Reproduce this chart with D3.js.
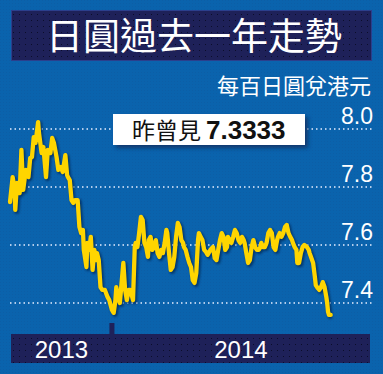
<!DOCTYPE html>
<html>
<head>
<meta charset="utf-8">
<script src="https://cdn.jsdelivr.net/npm/d3@7"></script>
<style>
    body { margin: 0; background: #0a63ad; }
    svg { display: block; }
</style>
</head>
<body>
<div class="article"></div>
<script>
// chart data (days since start date, rate per 100 yen in HKD)
var startDate = "2013-09-07";
var endDate = "2014-09-07";

var dayOffsets = [0, 3, 5, 6, 8, 11, 13, 15, 18, 21, 23, 25, 27, 29, 32, 33, 36, 38, 41, 43,
    46, 48, 50, 53, 55, 58, 60, 63, 65, 66, 68, 70, 72, 74, 77, 79, 81, 83, 84, 87,
    88, 90, 92, 94, 96, 98, 99, 101, 103, 105, 108, 111, 113, 116, 118, 120, 121, 123, 125, 127,
    129, 131, 133, 135, 137, 138, 140, 142, 143, 145, 147, 149, 151, 153, 155, 157, 158, 160, 162, 164,
    166, 168, 170, 172, 174, 176, 178, 179, 181, 183, 185, 187, 189, 191, 193, 195, 197, 198, 200, 202,
    204, 206, 208, 210, 212, 214, 215, 217, 219, 221, 223, 225, 228, 231, 233, 235, 237, 239, 241, 243,
    245, 247, 248, 250, 252, 254, 256, 258, 260, 262, 264, 266, 267, 269, 271, 273, 275, 277, 279, 281,
    283, 285, 286, 288, 290, 292, 294, 296, 298, 300, 302, 304, 305, 307, 309, 311, 313, 315, 317, 319,
    321, 322, 324, 326, 327, 329, 331, 333, 335, 338, 340, 341, 343, 345, 347, 348, 350, 352, 354, 356,
    358, 360, 361, 362, 363, 365];

var rates = [7.748, 7.834, 7.800, 7.721, 7.814, 7.779, 7.928, 7.790, 7.859, 7.834, 7.900, 7.903, 7.972, 7.952, 8.024, 7.986, 7.917, 7.938, 7.834, 7.928,
    7.917, 7.969, 7.952, 7.903, 7.859, 7.869, 7.852, 7.910, 7.841, 7.834, 7.824, 7.755, 7.745, 7.755, 7.755, 7.662, 7.641, 7.652, 7.583, 7.524,
    7.607, 7.583, 7.628, 7.514, 7.583, 7.548, 7.572, 7.548, 7.455, 7.445, 7.445, 7.421, 7.410, 7.376, 7.366, 7.410, 7.455, 7.421, 7.400, 7.469,
    7.538, 7.445, 7.410, 7.445, 7.445, 7.434, 7.410, 7.593, 7.607, 7.593, 7.641, 7.697, 7.686, 7.607, 7.593, 7.559, 7.617, 7.628, 7.583, 7.593,
    7.617, 7.572, 7.559, 7.583, 7.572, 7.607, 7.652, 7.641, 7.572, 7.514, 7.524, 7.559, 7.628, 7.676, 7.662, 7.617, 7.607, 7.593, 7.583, 7.559,
    7.538, 7.524, 7.479, 7.469, 7.503, 7.617, 7.641, 7.628, 7.617, 7.583, 7.576, 7.566, 7.583, 7.593, 7.555, 7.548, 7.583, 7.617, 7.641, 7.628,
    7.583, 7.593, 7.628, 7.617, 7.607, 7.628, 7.652, 7.641, 7.617, 7.607, 7.628, 7.617, 7.607, 7.572, 7.538, 7.548, 7.593, 7.617, 7.593, 7.583,
    7.583, 7.593, 7.607, 7.593, 7.593, 7.607, 7.641, 7.652, 7.641, 7.593, 7.583, 7.617, 7.628, 7.641, 7.628, 7.641, 7.662, 7.669, 7.641, 7.628,
    7.617, 7.607, 7.593, 7.583, 7.538, 7.538, 7.572, 7.593, 7.600, 7.593, 7.583, 7.572, 7.555, 7.538, 7.490, 7.462, 7.452, 7.445, 7.455, 7.472,
    7.455, 7.421, 7.400, 7.369, 7.359, 7.359];

var yTicks = [7.4, 7.6, 7.8, 8.0];
var yearLabels = ["2013", "2014"];

var titleText = "日圓過去一年走勢";
var unitText = "每百日圓兌港元";
var noteLabel = "昨曾見";
var noteValue = "7.3333";

buildChart();

function buildChart() {
    var svgWidth = 383;
    var svgHeight = 374;

    var parseDate = d3.timeParse("%Y-%m-%d");
    var start = parseDate(startDate);

    var data = dayOffsets.map(function(d, i) {
        return { date: d3.timeDay.offset(start, d), rate: rates[i] };
    });

    var svg = d3.select(".article").append("svg")
        .attr("width", svgWidth)
        .attr("height", svgHeight);

    var defs = svg.append("defs");

    // dotted texture for the dark boxes
    var pat = defs.append("pattern")
        .attr("id", "dots")
        .attr("width", 6)
        .attr("height", 6)
        .attr("patternUnits", "userSpaceOnUse");
    pat.append("rect").attr("width", 6).attr("height", 6).attr("fill", "#1e2159");
    pat.append("rect").attr("x", 1).attr("y", 2).attr("width", 1).attr("height", 1).attr("fill", "#0b0d2a");

    // faint texture for the blue background
    var bgPat = defs.append("pattern")
        .attr("id", "bgdots")
        .attr("width", 3)
        .attr("height", 3)
        .attr("patternUnits", "userSpaceOnUse");
    bgPat.append("rect").attr("width", 3).attr("height", 3).attr("fill", "#0a63ad");
    bgPat.append("rect").attr("width", 1).attr("height", 1).attr("fill", "#0c5ea6");

    var shadow = defs.append("filter")
        .attr("id", "boxShadow")
        .attr("x", "-20%").attr("y", "-40%")
        .attr("width", "140%").attr("height", "180%");
    shadow.append("feDropShadow")
        .attr("dx", 3).attr("dy", 3)
        .attr("stdDeviation", 2)
        .attr("flood-color", "#0a2a5c")
        .attr("flood-opacity", 0.8);

    var blur = defs.append("filter").attr("id", "lineBlur");
    blur.append("feGaussianBlur").attr("stdDeviation", 0.8);

    svg.append("rect")
        .attr("width", svgWidth)
        .attr("height", svgHeight)
        .attr("fill", "url(#bgdots)");

    // title box
    svg.append("rect")
        .attr("x", 11.5)
        .attr("y", 10.5)
        .attr("width", 360)
        .attr("height", 50)
        .attr("fill", "url(#dots)")
        .attr("stroke", "#2b3f8c")
        .attr("stroke-width", 1);

    svg.append("text")
        .attr("x", 194)
        .attr("y", 50)
        .attr("text-anchor", "middle")
        .attr("fill", "#ffffff")
        .attr("font-family", "'Noto Sans CJK TC', 'Noto Sans CJK SC', sans-serif")
        .attr("font-size", 37)
        .text(titleText);

    svg.append("text")
        .attr("x", 371)
        .attr("y", 94)
        .attr("text-anchor", "end")
        .attr("fill", "#ffffff")
        .attr("font-family", "'Noto Sans CJK TC', 'Noto Sans CJK SC', sans-serif")
        .attr("font-size", 22)
        .text(unitText);

    // scales
    var xScale = d3.scaleTime()
        .domain([start, parseDate(endDate)])
        .range([10, 330.7]);

    var yScale = d3.scaleLinear()
        .domain([7.4, 8.0])
        .range([303, 129]);

    // dotted gridlines
    svg.append("g")
        .selectAll("line")
        .data(yTicks)
        .enter()
        .append("line")
        .attr("x1", 10)
        .attr("x2", 374)
        .attr("y1", d => yScale(d))
        .attr("y2", d => yScale(d))
        .attr("stroke", "#e8f0ff")
        .attr("stroke-width", 1.5)
        .attr("stroke-dasharray", "1.5,3");

    // tick labels sit just above their line
    svg.append("g")
        .selectAll("text")
        .data(yTicks)
        .enter()
        .append("text")
        .attr("x", 373)
        .attr("y", d => yScale(d) - 5)
        .attr("text-anchor", "end")
        .attr("fill", "#ffffff")
        .attr("font-family", "'Liberation Sans', Arial, sans-serif")
        .attr("font-size", 23)
        .text(d => d3.format(".1f")(d));

    // the rate line with a dark shadow
    var line = d3.line()
        .x(d => xScale(d.date))
        .y(d => yScale(d.rate));

    svg.append("path")
        .datum(data)
        .attr("d", line)
        .attr("transform", "translate(1.5, 1.5)")
        .attr("fill", "none")
        .attr("stroke", "#082a55")
        .attr("stroke-opacity", 0.75)
        .attr("stroke-width", 5)
        .attr("stroke-linejoin", "round")
        .attr("filter", "url(#lineBlur)");

    svg.append("path")
        .datum(data)
        .attr("d", line)
        .attr("fill", "none")
        .attr("stroke", "#ffd500")
        .attr("stroke-width", 4.3)
        .attr("stroke-linejoin", "round")
        .attr("stroke-linecap", "round");

    // note box
    var note = svg.append("g");
    note.append("rect")
        .attr("x", 113)
        .attr("y", 114)
        .attr("width", 192)
        .attr("height", 31)
        .attr("fill", "#ffffff")
        .attr("filter", "url(#boxShadow)");

    var noteText = note.append("text")
        .attr("x", 132)
        .attr("y", 139)
        .attr("fill", "#111111");
    noteText.append("tspan")
        .attr("font-family", "'Noto Sans CJK TC', sans-serif")
        .attr("font-size", 23)
        .text(noteLabel);
    noteText.append("tspan")
        .attr("dx", 5)
        .attr("font-family", "'Liberation Sans', Arial, sans-serif")
        .attr("font-weight", "bold")
        .attr("font-size", 26)
        .text(noteValue);

    // x axis band
    var bandLeft = 11;
    var bandRight = 370;
    svg.append("rect")
        .attr("x", bandLeft)
        .attr("y", 334)
        .attr("width", bandRight - bandLeft)
        .attr("height", 29)
        .attr("fill", "url(#dots)");

    var yearStarts = yearLabels.map(y => parseDate(y + "-01-01"));

    // tick at the year boundary
    svg.append("rect")
        .attr("x", xScale(yearStarts[1]) - 2.5)
        .attr("y", 323)
        .attr("width", 5)
        .attr("height", 12)
        .attr("fill", "#1e2159");

    svg.append("g")
        .selectAll("text")
        .data(yearLabels)
        .enter()
        .append("text")
        .attr("x", function(d, i) {
            var a = Math.max(xScale(yearStarts[i]), bandLeft);
            var b = Math.min(xScale(d3.timeYear.offset(yearStarts[i], 1)), bandRight);
            return (a + b) / 2;
        })
        .attr("y", 358)
        .attr("text-anchor", "middle")
        .attr("fill", "#ffffff")
        .attr("font-family", "'Liberation Sans', Arial, sans-serif")
        .attr("font-size", 24)
        .text(d => d);
}
</script>
</body>
</html>
